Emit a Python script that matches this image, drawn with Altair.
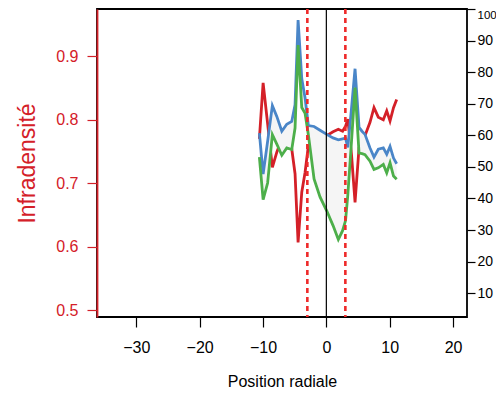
import altair as alt
import pandas as pd

# Radial positions (shared by all three series)
x_pos = [-10.57, -9.98, -9.27, -8.52, -7.82, -7.03, -6.25, -5.46, -4.94, -4.46,
         -3.88, -3.36, -2.84, -1.94, -1.0, 0.06, 1.06, 1.89, 2.56, 3.03,
         3.39, 3.97, 4.53, 5.16, 5.63, 6.1, 6.89, 7.52, 8.2, 8.99,
         9.53, 10.05, 10.6, 11.1]

# Infradensité (left axis)
red_vals = [0.770, 0.858, 0.794, 0.725, 0.749, 0.770, 0.756, 0.754, 0.715, 0.607,
            0.686, 0.717, 0.759, 0.760, 0.767, 0.775, 0.781, 0.785, 0.782, 0.790,
            0.801, 0.745, 0.670, 0.756, 0.767, 0.775, 0.796, 0.819, 0.804, 0.800,
            0.814, 0.798, 0.819, 0.832]

# Right-axis series
blue_vals = [60.7, 47.7, 58.1, 69.4, 66.0, 61.3, 63.5, 64.4, 69.7, 96.5,
             77.9, 71.9, 63.1, 62.8, 61.6, 60.3, 59.2, 58.6, 58.9, 59.1,
             56.2, 68.5, 81.1, 62.5, 61.3, 60.3, 56.0, 53.1, 55.6, 56.0,
             54.0, 56.5, 52.8, 51.0]

green_vals = [53.1, 39.6, 44.9, 60.2, 57.2, 53.7, 56.0, 55.5, 62.3, 88.6,
              68.8, 67.0, 60.2, 46.2, 40.5, 36.1, 31.4, 27.0, 29.8, 33.0,
              41.1, 58.1, 75.1, 54.4, 54.2, 53.9, 51.8, 49.2, 49.7, 50.8,
              48.1, 51.3, 47.1, 46.1]

x_ticks = [-30, -20, -10, 0, 10, 20]
left_ticks = [0.5, 0.6, 0.7, 0.8, 0.9]
right_ticks = [10, 20, 30, 40, 50, 60, 70, 80, 90, 100]
dashed_x = [-3, 3]
zero_x = [0]

RED = "#D42028"
BLUE = "#4A86C8"
GREEN = "#4DAF4A"
FONT = "Liberation Sans"

df = pd.DataFrame({"x": x_pos, "red": red_vals, "blue": blue_vals, "green": green_vals})

xs = alt.Scale(domain=[-36.2, 22.2], nice=False, zero=False)
x_axis = alt.Axis(values=x_ticks, title="Position radiale", grid=False, domain=False,
                  tickSize=10, tickColor="black", tickWidth=1.2, labelPadding=12,
                  labelFontSize=16, titleFontSize=16, titleFontWeight="normal",
                  titlePadding=18, labelColor="black", titleColor="black",
                  labelFont=FONT, titleFont=FONT)


def X(field="x"):
    return alt.X(f"{field}:Q", scale=xs, axis=x_axis)


ls = alt.Scale(domain=[0.4895, 0.9743], nice=False, zero=False)
left_axis = alt.Axis(orient="left", values=left_ticks, format=".1f", title="Infradensité",
                     grid=False, domain=True, domainColor=RED, domainWidth=1.8,
                     tickColor=RED, tickSize=10, tickWidth=1.2, labelColor=RED,
                     labelFontSize=16, labelPadding=9, titleColor=RED, titleFontSize=23,
                     titleFontWeight="normal", titlePadding=16, labelFont=FONT, titleFont=FONT)

rs = alt.Scale(domain=[2.45, 100.02], nice=False, zero=False)
right_axis = alt.Axis(orient="right", values=right_ticks, title=None, grid=False,
                      domain=False, tickColor="black", tickSize=8, tickWidth=1.2,
                      labelColor="black", labelPadding=2, labelFont=FONT,
                      labelFontSize={"condition": {"test": "datum.value >= 100", "value": 11.5},
                                     "value": 14},
                      labelBound=False, labelFlush=False, labelOverlap=False,
                      labelBaseline={"condition": {"test": "datum.value >= 100", "value": "top"},
                                     "value": "middle"})

area = alt.Chart(df).mark_area(color="#F5F5F5").encode(
    x=X(), y=alt.Y("blue:Q", scale=rs, axis=right_axis), y2="green:Q")
blue = alt.Chart(df).mark_line(color=BLUE, strokeWidth=2.8).encode(
    x=X(), y=alt.Y("blue:Q", scale=rs, axis=right_axis))
green = alt.Chart(df).mark_line(color=GREEN, strokeWidth=2.8).encode(
    x=X(), y=alt.Y("green:Q", scale=rs, axis=right_axis))
right_group = alt.layer(area, blue, green)

red = alt.Chart(df).mark_line(color=RED, strokeWidth=2.8).encode(
    x=X(), y=alt.Y("red:Q", scale=ls, axis=left_axis))

zero_rule = alt.Chart(pd.DataFrame({"x": zero_x})).mark_rule(
    color="black", strokeWidth=1.2).encode(x=X())
dashed = alt.Chart(pd.DataFrame({"x": dashed_x})).mark_rule(
    color="#EE2A2A", strokeWidth=2.6, strokeDash=[5, 4]).encode(x=X())

chart = alt.layer(red, right_group, zero_rule, dashed).resolve_scale(
    y="independent"
).properties(
    width=370, height=308,
    autosize=alt.AutoSizeParams(type="none"),
    padding={"left": 89, "top": 1, "right": 29, "bottom": 72},
    background="white",
).configure_view(stroke="black", strokeWidth=1.8)

chart.save("out.html", embed_options={"renderer": "svg", "actions": False})
